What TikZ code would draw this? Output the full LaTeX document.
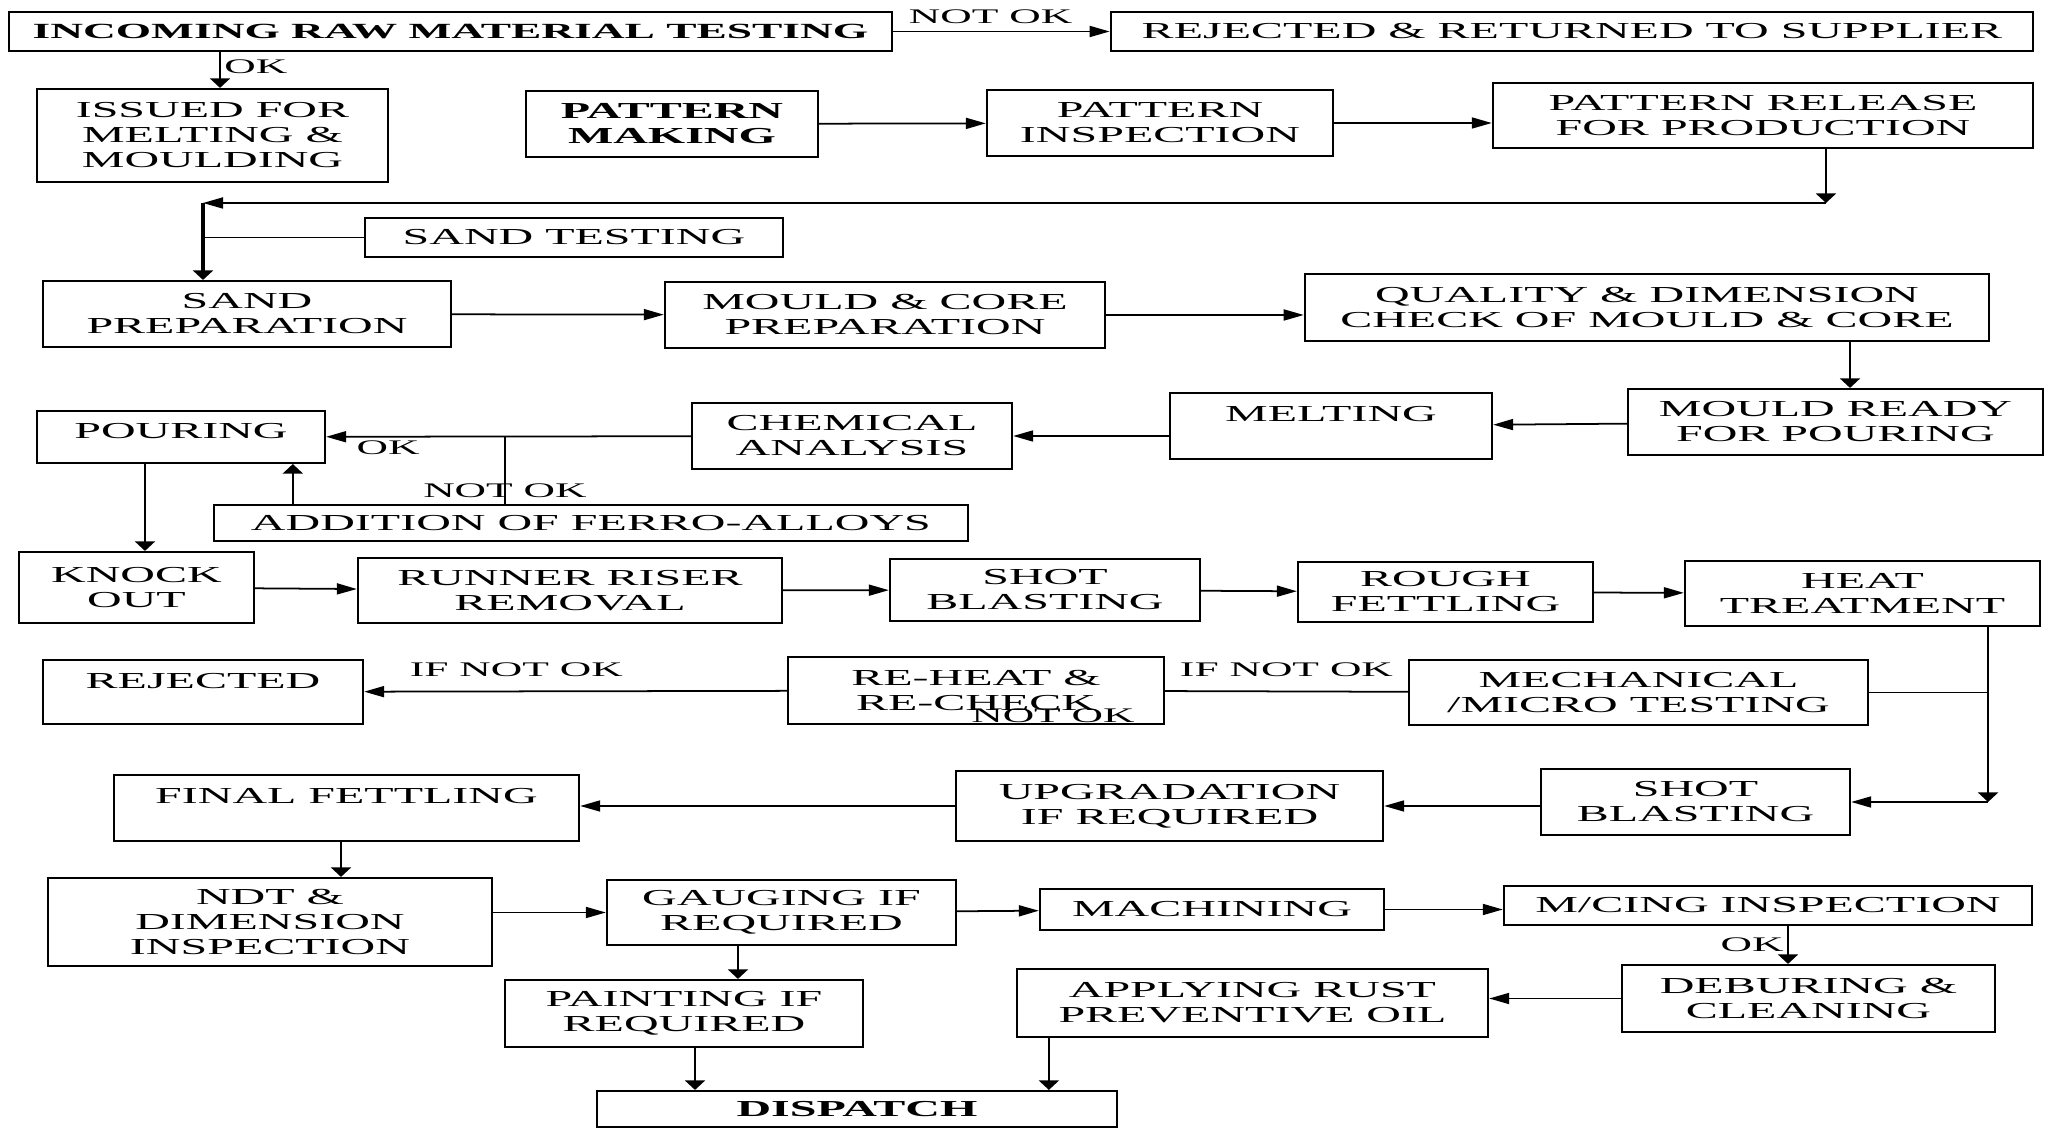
\documentclass[tikz,border=0pt]{standalone}
\usepackage{fontspec}
\setmainfont{Liberation Serif}[FakeStretch=2.1]
\usetikzlibrary{arrows.meta, positioning}

\begin{document}
\begin{tikzpicture}[
  x=0.01cm, y=-0.01cm,
  box/.style={rectangle, draw, line width=0.6pt, inner sep=1pt, align=center,
              font=\fontsize{6.5}{7.1}\selectfont},
  bbox/.style={box, font=\fontsize{6.5}{7.1}\selectfont\bfseries},
  sz/.style 2 args={minimum width=#1, minimum height=#2},
  lbl/.style={inner sep=1pt, font=\fontsize{5.9}{6.5}\selectfont},
  harr/.style={-{Triangle[length=2mm, width=1.1mm]}, line width=0.5pt},
  varr/.style={-{Triangle[length=0.95mm, width=2mm]}, line width=0.5pt},
  link/.style={line width=0.5pt}
]
  \useasboundingbox (0,0) rectangle (2050,1128);

  \node[bbox, sz={8.83cm}{0.39cm}, font=\fontsize{6.15}{7.1}\selectfont\bfseries] (inctest) at (450.5,31.5) {INCOMING RAW MATERIAL TESTING};
  \node[box, sz={9.22cm}{0.39cm}] (rejsupp) at (1572,31.5) {REJECTED \& RETURNED TO SUPPLIER};
  \node[box, sz={3.51cm}{0.93cm}] (issued) at (212.5,135.5) {ISSUED FOR\\MELTING \&\\MOULDING};
  \node[bbox, sz={2.92cm}{0.66cm}] (patmake) at (672,124) {PATTERN\\MAKING};
  \node[box, sz={3.46cm}{0.66cm}] (patinsp) at (1160,123) {PATTERN\\INSPECTION};
  \node[box, sz={5.40cm}{0.65cm}] (patrel) at (1763,115.5) {PATTERN RELEASE\\FOR PRODUCTION};
  \node[box, sz={4.18cm}{0.39cm}] (sandtest) at (574,237.5) {SAND TESTING};
  \node[box, sz={4.08cm}{0.66cm}] (sandprep) at (247,314) {SAND\\PREPARATION};
  \node[box, sz={4.40cm}{0.66cm}] (mouldcore) at (885,315) {MOULD \& CORE\\PREPARATION};
  \node[box, sz={6.84cm}{0.67cm}] (qualchk) at (1647,307.5) {QUALITY \& DIMENSION\\CHECK OF MOULD \& CORE};
  \node[box, sz={4.15cm}{0.66cm}] (mouldready) at (1835.5,422) {MOULD READY\\FOR POURING};
  \node[box, sz={3.22cm}{0.66cm}, text depth=0.25cm] (melting) at (1331,426) {MELTING};
  \node[box, sz={3.20cm}{0.66cm}] (chemanal) at (852,436) {CHEMICAL\\ANALYSIS};
  \node[box, sz={2.88cm}{0.52cm}, text depth=0.13cm] (pouring) at (181,437) {POURING};
  \node[box, sz={7.54cm}{0.36cm}] (ferro) at (591,523) {ADDITION OF FERRO-ALLOYS};
  \node[box, sz={2.35cm}{0.71cm}] (knockout) at (136.5,587.5) {KNOCK\\OUT};
  \node[box, sz={4.24cm}{0.65cm}] (runner) at (570,590.5) {RUNNER RISER\\REMOVAL};
  \node[box, sz={3.10cm}{0.62cm}] (shotblastA) at (1045,590) {SHOT\\BLASTING};
  \node[box, sz={2.95cm}{0.60cm}] (roughfet) at (1445.5,592) {ROUGH\\FETTLING};
  \node[box, sz={3.55cm}{0.65cm}] (heattreat) at (1862.5,593.5) {HEAT\\TREATMENT};
  \node[box, sz={3.20cm}{0.64cm}, text depth=0.23cm] (rejected) at (203,692) {REJECTED};
  \node[box, sz={3.76cm}{0.67cm}] (reheat) at (976,690.5) {RE-HEAT \&\\RE-CHECK};
  \node[box, sz={4.59cm}{0.65cm}] (mechtest) at (1638.5,692.5) {MECHANICAL\\/MICRO TESTING};
  \node[box, sz={3.09cm}{0.66cm}] (shotblastB) at (1695.5,802) {SHOT\\BLASTING};
  \node[box, sz={4.27cm}{0.70cm}] (upgrade) at (1169.5,806) {UPGRADATION\\IF REQUIRED};
  \node[box, sz={4.65cm}{0.66cm}, text depth=0.25cm] (finalfet) at (346.5,808) {FINAL FETTLING};
  \node[box, sz={4.44cm}{0.88cm}] (ndt) at (270,922) {NDT \&\\DIMENSION\\INSPECTION};
  \node[box, sz={3.49cm}{0.65cm}] (gauging) at (781.5,912.5) {GAUGING IF\\REQUIRED};
  \node[box, sz={3.44cm}{0.41cm}] (machining) at (1212,909.5) {MACHINING};
  \node[box, sz={5.28cm}{0.39cm}] (mcinsp) at (1768,905.5) {M/CING INSPECTION};
  \node[box, sz={3.73cm}{0.67cm}] (deburr) at (1808.5,998.5) {DEBURING \&\\CLEANING};
  \node[box, sz={4.71cm}{0.68cm}] (rustoil) at (1252.5,1003) {APPLYING RUST\\PREVENTIVE OIL};
  \node[box, sz={3.58cm}{0.67cm}] (painting) at (684,1013.5) {PAINTING IF\\REQUIRED};
  \node[bbox, sz={5.20cm}{0.36cm}] (dispatch) at (857,1109) {DISPATCH};
  \node[lbl] (recheck) at (1053,716) {NOT OK};

  \coordinate (retR) at (1826,203);
  \coordinate (retL) at (203,203);

  \draw[harr] (inctest) -- node[lbl, above=1pt, pos=0.45] {NOT OK} (rejsupp);
  \draw[varr] ([xshift=0.075cm]inctest.south -| issued.north) -- ([xshift=0.075cm]issued.north) node[lbl, pos=0.4, right] {OK};
  \draw[harr] (patmake) -- (patinsp);
  \draw[harr] (patinsp.east) -- (patinsp.east -| patrel.west);
  \draw[varr] (patrel.south -| retR) -- (retR);
  \draw[harr] (retR) -- (retL);
  \draw[varr, line width=1.2pt] (retL) -- (retL |- sandprep.north);
  \draw[link] (sandtest) -- (sandtest -| retL);
  \draw[harr] (sandprep) -- (mouldcore);
  \draw[harr] (mouldcore.east) -- (mouldcore.east -| qualchk.west);
  \draw[varr] ([xshift=0.145cm]mouldready.north |- qualchk.south) -- ([xshift=0.145cm]mouldready.north);
  \draw[harr] (mouldready) -- (melting);
  \draw[harr] (melting.west |- chemanal) -- (chemanal);
  \draw[harr] (chemanal) -- (pouring) node[lbl, pos=0.83, below] {OK};
  \draw[link] ([xshift=-0.86cm]ferro.north |- chemanal) -- ([xshift=-0.86cm]ferro.north) node[lbl, pos=0.8] {NOT OK};
  \draw[varr] ([xshift=-2.98cm]ferro.north) -- ([xshift=-2.98cm]ferro.north |- pouring.south);
  \draw[varr] ([xshift=-0.36cm]pouring.south) -- ([xshift=-0.36cm]pouring.south |- knockout.north);
  \draw[harr] (knockout) -- (runner);
  \draw[harr] (runner) -- (shotblastA);
  \draw[harr] (shotblastA) -- (roughfet);
  \draw[harr] (roughfet) -- (heattreat);
  \draw[varr] ([xshift=1.255cm]heattreat.south) -- ([xshift=1.255cm]heattreat.south |- shotblastB);
  \draw[harr] ([xshift=1.255cm]heattreat.south |- shotblastB) -- (shotblastB);
  \draw[link] (mechtest) -- ([xshift=1.255cm]heattreat.south |- mechtest);
  \draw[link] (mechtest) -- node[lbl, above=3pt] {IF NOT OK} (reheat);
  \draw[harr] (reheat) -- node[lbl, above=3pt, pos=0.64] {IF NOT OK} (rejected);
  \draw[harr] (shotblastB.west |- upgrade) -- (upgrade);
  \draw[harr] (upgrade) -- (upgrade -| finalfet.east);
  \draw[varr] ([xshift=-0.055cm]finalfet.south) -- ([xshift=-0.055cm]finalfet.south |- ndt.north);
  \draw[harr] (ndt.east |- gauging) -- (gauging);
  \draw[harr] (gauging) -- (machining);
  \draw[harr] (machining) -- (machining -| mcinsp.west);
  \draw[varr] ([xshift=0.2cm]mcinsp.south) -- ([xshift=0.2cm]mcinsp.south |- deburr.north) node[lbl, midway, left] {OK};
  \draw[harr] (deburr) -- (deburr -| rustoil.east);
  \draw[varr] ([xshift=-0.435cm]gauging.south) -- ([xshift=-0.435cm]gauging.south |- painting.north);
  \draw[varr] ([xshift=0.11cm]painting.south) -- ([xshift=0.11cm]painting.south |- dispatch.north);
  \draw[varr] ([xshift=-2.035cm]rustoil.south) -- ([xshift=-2.035cm]rustoil.south |- dispatch.north);
\end{tikzpicture}
\end{document}
